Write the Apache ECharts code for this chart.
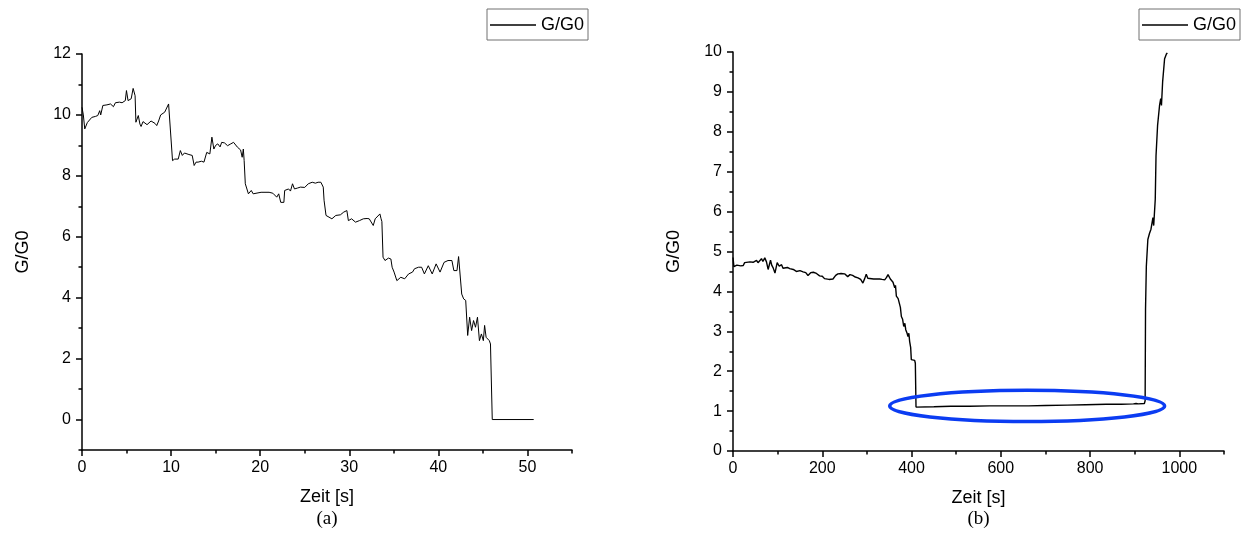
<!DOCTYPE html>
<html>
<head>
<meta charset="utf-8">
<script src="https://cdn.jsdelivr.net/npm/echarts@6/dist/echarts.min.js"></script>
<style>
html,body{margin:0;padding:0;background:#fff;}
#main{width:1251px;height:555px;}
</style>
</head>
<body>
<div id="main"></div>
<script>
// ---------- data: panel (a) ----------
const leftTime = [0,0.15,0.31,0.6,1.1,1.5,1.77,1.99,2.1,2.34,2.8,3.2,3.53,3.75,4.2,4.5,4.86,4.99,5.17,5.52,5.74,5.96,6.05,6.2,6.32,6.5,6.63,6.85,7.07,7.3,7.51,7.75,7.95,8.2,8.39,8.6,8.83,9.28,9.5,9.72,9.85,9.94,10.16,10.4,10.6,10.8,11.04,11.26,11.5,11.7,12.0,12.37,12.59,12.8,13.03,13.4,13.69,14.0,14.35,14.58,14.8,15.0,15.24,15.5,15.68,16.0,16.34,16.7,17.01,17.45,17.8,17.98,18.11,18.2,18.33,18.68,19.0,19.21,20.1,21.0,21.42,21.86,22.08,22.31,22.66,22.75,23.19,23.4,23.63,23.85,24.2,24.51,25.0,25.4,25.84,26.2,26.5,26.81,27.08,27.17,27.39,27.61,28.05,28.49,29.0,29.38,29.73,29.9,30.26,30.7,31.14,31.58,32.0,32.24,32.69,32.91,33.13,33.44,33.57,33.66,33.79,34.01,34.4,34.67,34.81,35.03,35.34,35.78,36.22,36.66,37.1,37.32,37.77,38.12,38.43,38.87,39.31,39.75,40.19,40.64,41.08,41.52,41.74,42.09,42.27,42.62,42.84,43.07,43.29,43.51,43.73,43.95,44.17,44.39,44.61,44.83,45.05,45.19,45.36,45.72,45.85,46.05,50.7];
const leftG = [10.25,10.0,9.54,9.75,9.92,9.95,9.98,10.14,10.0,10.31,10.33,10.36,10.27,10.4,10.42,10.4,10.47,10.8,10.47,10.53,10.87,10.63,9.76,9.8,9.98,9.7,9.62,9.78,9.76,9.68,9.65,9.8,9.76,9.72,9.65,9.8,10.0,10.09,10.15,10.36,10.42,10.3,8.5,8.55,8.52,8.55,8.83,8.67,8.75,8.72,8.7,8.67,8.34,8.45,8.45,8.48,8.45,8.77,8.72,9.27,8.88,9.0,9.05,8.95,9.1,9.08,8.99,9.05,9.1,8.94,8.85,8.61,8.88,8.5,7.74,7.41,7.52,7.41,7.46,7.46,7.43,7.3,7.41,7.13,7.13,7.52,7.57,7.5,7.74,7.57,7.6,7.63,7.62,7.74,7.79,7.76,7.79,7.79,7.63,7.2,6.7,6.75,6.59,6.7,6.72,6.81,6.86,6.53,6.59,6.48,6.53,6.59,6.6,6.59,6.37,6.59,6.53,6.75,6.59,6.5,5.33,5.22,5.3,5.27,5.0,4.84,4.56,4.67,4.62,4.78,4.84,4.95,5.0,5.0,4.78,5.05,4.78,5.11,4.84,5.16,5.22,5.22,4.89,4.89,5.35,4.12,3.96,3.91,2.76,3.36,2.92,3.25,3.03,3.36,2.59,2.81,2.59,3.09,2.7,2.59,2.48,0,0];

// ---------- data: panel (b) ----------
const rightTime = [0,0.7,2,4.5,8.7,12,17.4,23,26.1,30.5,38,45,52.7,56,58.6,63.8,67,71.2,75,78.7,84,87,90,94,99,103.6,108.8,112,116,122,127,135,142,150,157,163,168,174,180,187,194,200,205,209,215,224,230,235,242,250,257,262,268,274,280,286,291,295,298.5,302,306,315,328.6,334,339.8,344,347.3,352.5,358.5,362.3,364,366,370,373.5,375,377.2,380,382.5,385,387,390,392,394,395.7,398,399.5,403,407,408.5,410,450,487.8,530,574.9,620,662,700,749.1,790,836.2,870,897.2,903,905.9,908,910.3,921.6,923.3,924.2,926,929.4,933,936.4,940.8,942.5,946,947.7,951.2,955.6,958.2,959.9,962.5,966.9,969.5,971,973];
const rightG = [4.85,4.8,4.62,4.63,4.66,4.67,4.64,4.65,4.72,4.72,4.74,4.73,4.78,4.72,4.72,4.82,4.75,4.84,4.74,4.55,4.78,4.65,4.59,4.46,4.72,4.63,4.67,4.58,4.57,4.6,4.57,4.55,4.5,4.52,4.49,4.47,4.4,4.47,4.48,4.45,4.39,4.38,4.32,4.28,4.3,4.31,4.4,4.44,4.45,4.44,4.37,4.42,4.4,4.36,4.34,4.3,4.21,4.32,4.43,4.33,4.31,4.31,4.31,4.3,4.29,4.35,4.42,4.31,4.23,4.09,4.15,3.88,3.82,3.79,3.6,3.37,3.3,3.12,3.2,3.04,2.95,2.87,2.95,2.75,2.6,2.29,2.28,2.27,2.2,1.1,1.11,1.12,1.12,1.13,1.13,1.13,1.14,1.15,1.16,1.17,1.17,1.18,1.19,1.22,1.18,1.18,1.19,1.26,3.55,4.63,5.3,5.45,5.56,5.85,5.65,6.31,7.4,8.16,8.66,8.83,8.66,9.25,9.83,9.79,9.95,9.98];

// ---------- ticks ----------
const leftXMajor = [0,10,20,30,40,50];
const leftXMinor = [5,15,25,35,45,55];
const leftYMajor = [0,2,4,6,8,10,12];
const leftYMinor = [-1,1,3,5,7,9,11];
const rightXMajor = [0,200,400,600,800,1000];
const rightXMinor = [100,300,500,700,900,1100];
const rightYMajor = [0,1,2,3,4,5,6,7,8,9,10];
const rightYMinor = [0.5,1.5,2.5,3.5,4.5,5.5,6.5,7.5,8.5,9.5];

// annotation ellipse (data units of panel b)
const ellipseCenter = [659, 1.13];
const ellipseRadius = [308, 0.39];

const seriesName = 'G/G0';
const xTitle = 'Zeit [s]';
const yTitle = 'G/G0';

const FONT = 'Liberation Sans, Arial, sans-serif';
const zip = (a, b) => a.map((v, i) => [v, b[i]]);

function majorAxis(gridIndex, min, max, ticks, isX, nameText, nameGap) {
  return {
    type: 'value', gridIndex, min, max,
    position: isX ? 'bottom' : 'left',
    name: nameText, nameLocation: 'middle', nameGap,
    nameTextStyle: {fontFamily: FONT, fontSize: 18, color: '#000'},
    axisLine: {show: true, onZero: false, lineStyle: {color: '#000', width: 1.5}},
    axisTick: {show: true, inside: false, length: 6, customValues: ticks, lineStyle: {color: '#000', width: 1.5}},
    axisLabel: {show: true, customValues: ticks, margin: isX ? 10 : 11, fontFamily: FONT, fontSize: 16, color: '#000',
                formatter: v => String(v)},
    splitLine: {show: false},
    minorTick: {show: false}
  };
}
function minorAxis(gridIndex, min, max, ticks, isX) {
  return {
    type: 'value', gridIndex, min, max,
    position: isX ? 'bottom' : 'left',
    axisLine: {show: false, onZero: false},
    axisTick: {show: true, inside: false, length: 3.5, customValues: ticks, lineStyle: {color: '#000', width: 1.5}},
    axisLabel: {show: false},
    splitLine: {show: false}
  };
}

const chart = echarts.init(document.getElementById('main'), null, {renderer: 'canvas'});

const legendBase = {
  data: [{name: seriesName, icon: 'rect'}],
  orient: 'horizontal',
  backgroundColor: '#fff',
  borderColor: '#707070',
  borderWidth: 1,
  borderRadius: 0,
  padding: [7, 4, 6, 3],
  itemWidth: 46,
  itemHeight: 1.3,
  itemGap: 5,
  itemStyle: {color: '#000', borderWidth: 0},
  lineStyle: {width: 0},
  textStyle: {fontFamily: FONT, fontSize: 18, color: '#000'}
};

chart.setOption({
  animation: false,
  backgroundColor: '#fff',
  grid: [
    {left: 82, top: 54, width: 490, height: 396, containLabel: false},
    {left: 733, top: 52, width: 491, height: 399, containLabel: false}
  ],
  legend: [
    Object.assign({}, legendBase, {left: 487, top: 9}),
    Object.assign({}, legendBase, {left: 1139, top: 9})
  ],
  xAxis: [
    majorAxis(0, 0, 55, leftXMajor, true, xTitle, 38),
    minorAxis(0, 0, 55, leftXMinor, true),
    majorAxis(1, 0, 1100, rightXMajor, true, xTitle, 38),
    minorAxis(1, 0, 1100, rightXMinor, true)
  ],
  yAxis: [
    majorAxis(0, -1, 12, leftYMajor, false, yTitle, 50),
    minorAxis(0, -1, 12, leftYMinor, false),
    majorAxis(1, 0, 10, rightYMajor, false, yTitle, 50),
    minorAxis(1, 0, 10, rightYMinor, false)
  ],
  series: [
    {name: seriesName, type: 'line', xAxisIndex: 0, yAxisIndex: 0, symbol: 'none',
     lineStyle: {color: '#000', width: 1}, itemStyle: {color: '#000'},
     data: zip(leftTime, leftG)},
    {name: seriesName, type: 'line', xAxisIndex: 2, yAxisIndex: 2, symbol: 'none',
     lineStyle: {color: '#000', width: 1.4}, itemStyle: {color: '#000'},
     data: zip(rightTime, rightG)}
  ]
});

// annotation ellipse + sub-captions
const c = chart.convertToPixel({xAxisIndex: 2, yAxisIndex: 2}, ellipseCenter);
const e = chart.convertToPixel({xAxisIndex: 2, yAxisIndex: 2},
  [ellipseCenter[0] + ellipseRadius[0], ellipseCenter[1] + ellipseRadius[1]]);
const la = chart.convertToPixel({xAxisIndex: 0}, 27.5);
const lb = chart.convertToPixel({xAxisIndex: 2}, 550);

chart.setOption({
  graphic: [
    {type: 'ellipse', shape: {cx: c[0], cy: c[1], rx: Math.abs(e[0] - c[0]), ry: Math.abs(c[1] - e[1])},
     style: {fill: 'none', stroke: '#0b3cf2', lineWidth: 3.5}, z: 100},
    {type: 'text', x: la, y: 519, style: {text: '(a)', fontFamily: 'Liberation Serif, DejaVu Serif, serif', fontSize: 19, fill: '#000', align: 'center', verticalAlign: 'middle'}},
    {type: 'text', x: lb, y: 519, style: {text: '(b)', fontFamily: 'Liberation Serif, DejaVu Serif, serif', fontSize: 19, fill: '#000', align: 'center', verticalAlign: 'middle'}}
  ]
});
</script>
</body>
</html>
